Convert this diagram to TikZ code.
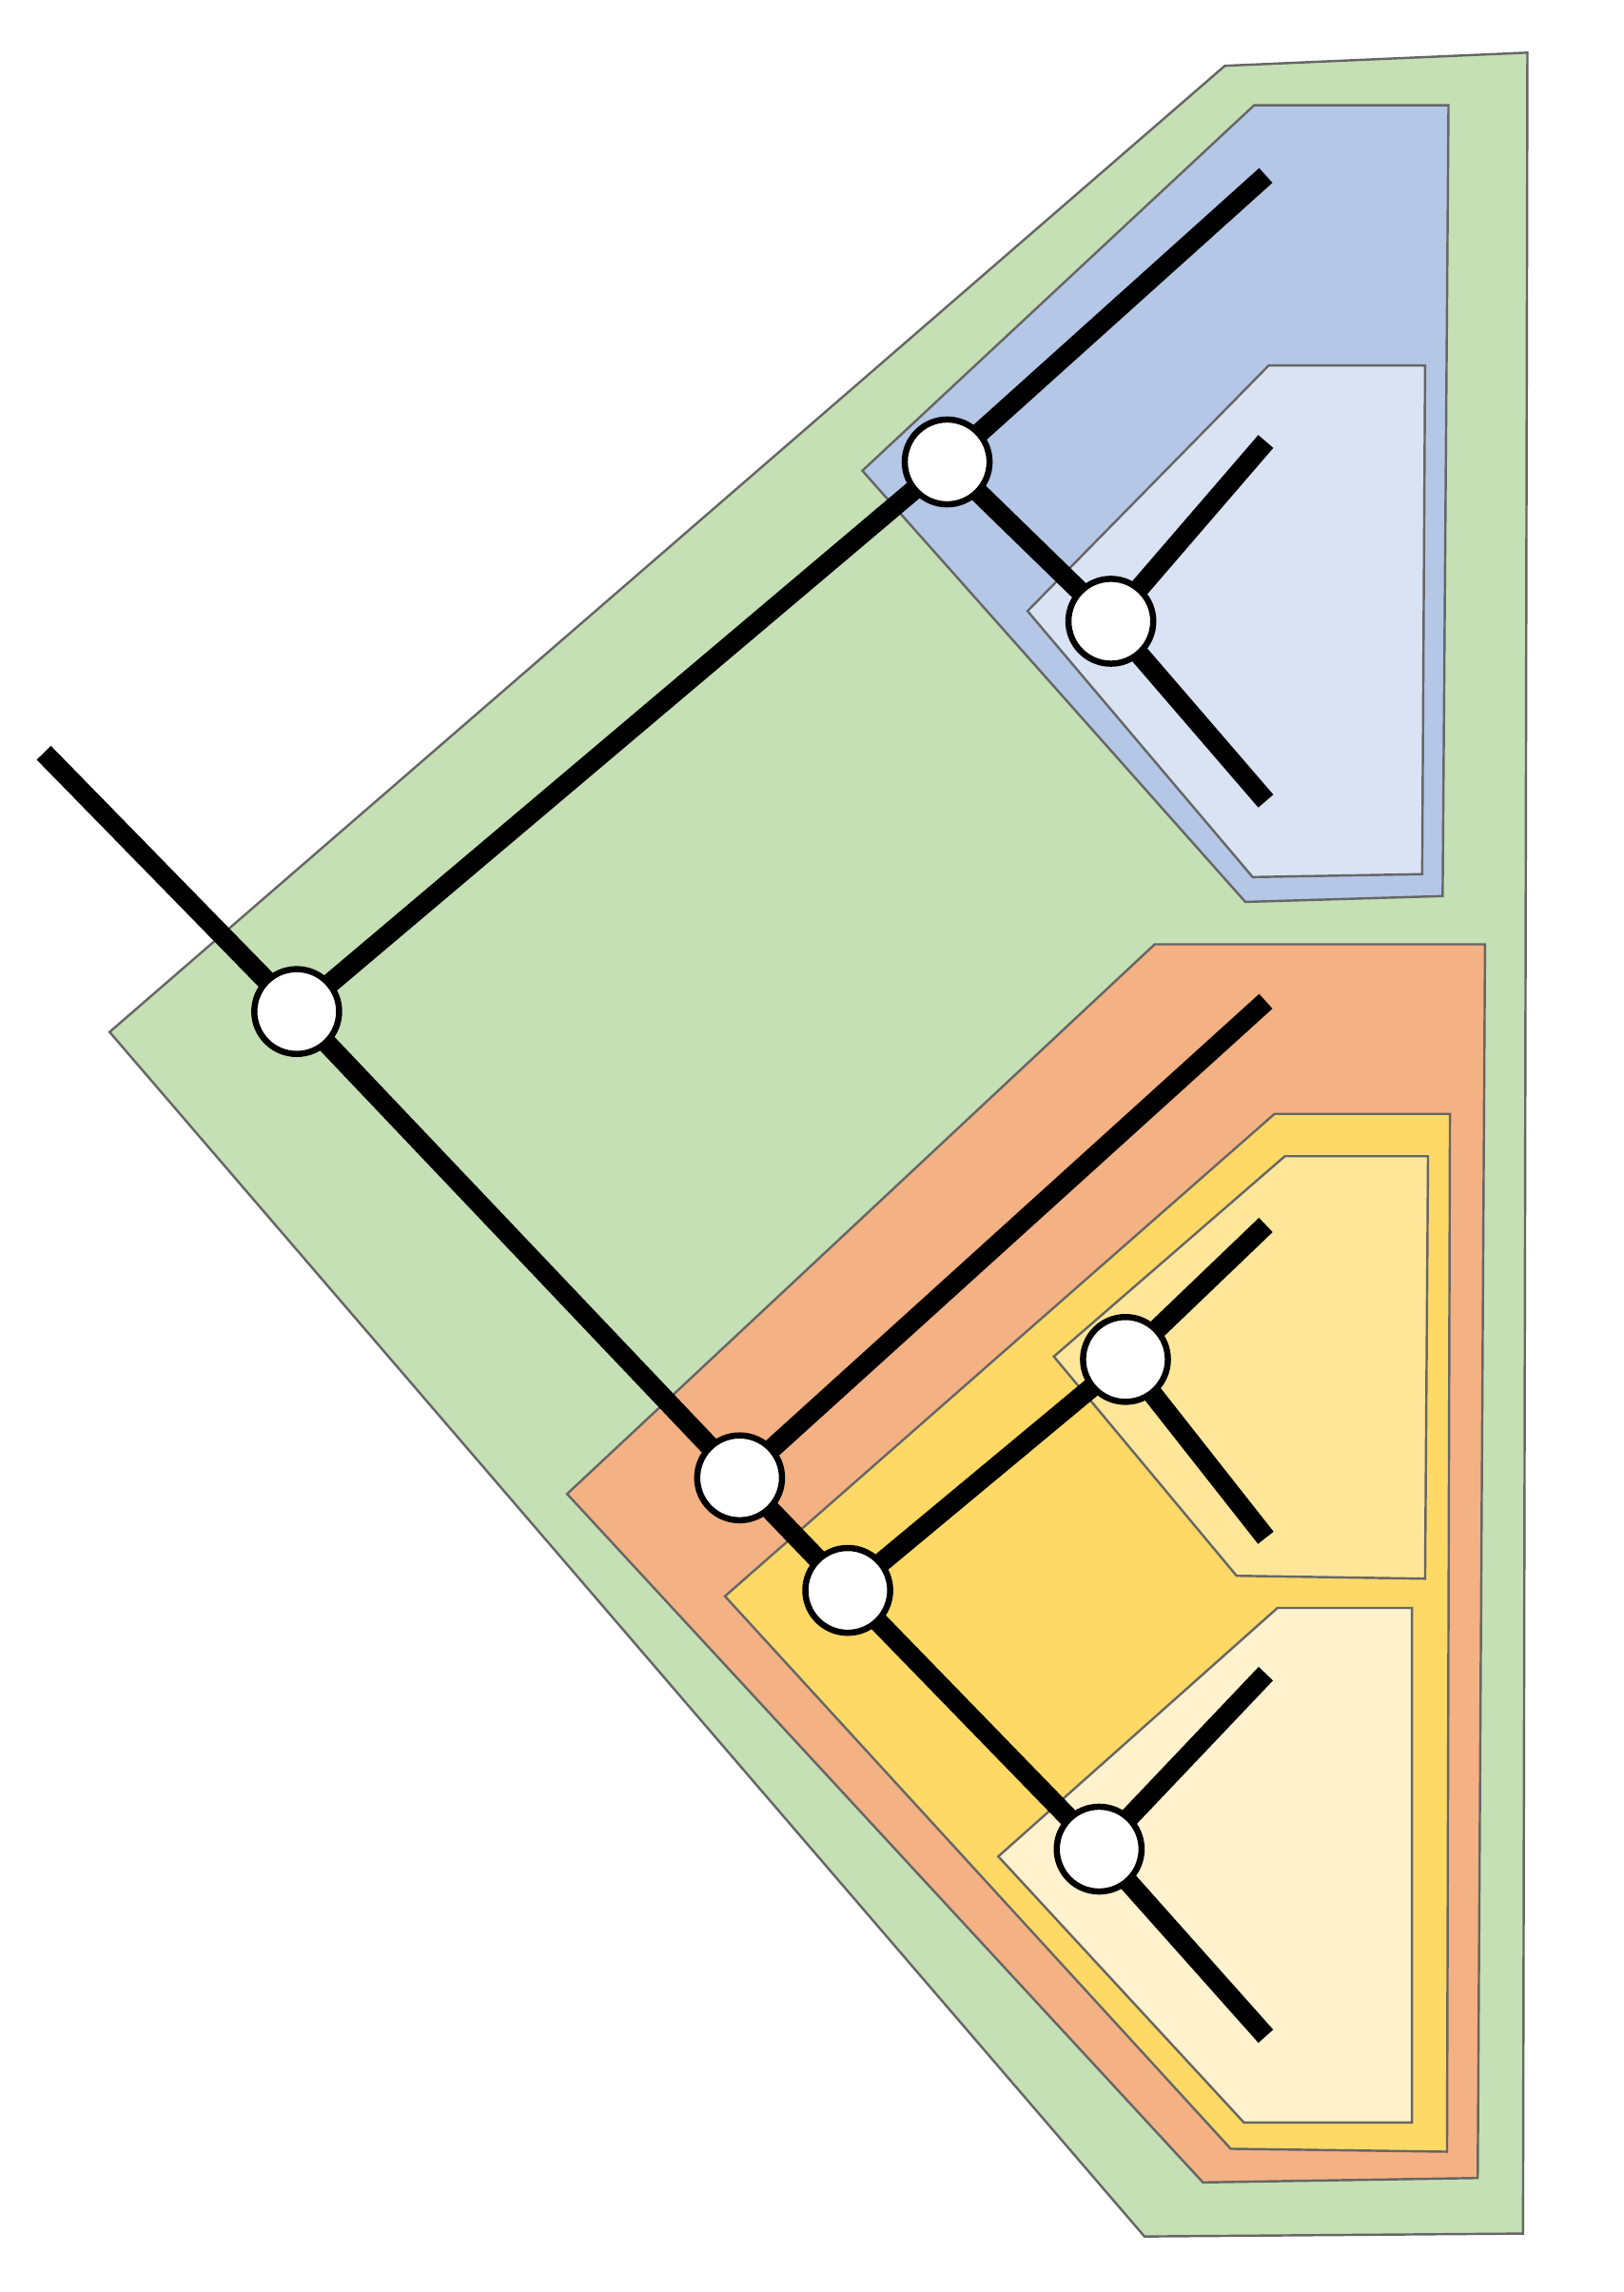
\documentclass[tikz,border=0pt]{standalone}
\begin{document}
\begin{tikzpicture}[x=0.01cm,y=-0.01cm,
  region/.style={draw=black!60, line width=0.45pt},
  branch/.style={line width=3.85pt, line cap=butt},
  inner/.style={circle, draw, fill=white, line width=1.2pt, minimum size=0.58cm, inner sep=0pt}]
\useasboundingbox (0,0) rectangle (1111,1568);
\definecolor{cgreen}{HTML}{C5E0B4}
\definecolor{cblue}{HTML}{B4C7E7}
\definecolor{clblue}{HTML}{DAE3F3}
\definecolor{corange}{HTML}{F4B183}
\definecolor{cyellow}{HTML}{FFD966}
\definecolor{clyellow}{HTML}{FFE699}
\definecolor{cllyellow}{HTML}{FFF2CC}
% regions
\draw[region, fill=cgreen] (838,45) -- (1045,36) -- (1042,1528) -- (783,1530) -- (75,706) -- cycle;
\draw[region, fill=cblue] (858,72) -- (991,72) -- (987,613) -- (852,617) -- (590,322) -- cycle;
\draw[region, fill=clblue] (868,250) -- (975,250) -- (973,598) -- (857,600) -- (703,418) -- cycle;
\draw[region, fill=corange] (790,646) -- (1016,646) -- (1011,1490) -- (823,1493) -- (388,1022) -- cycle;
\draw[region, fill=cyellow] (872,762) -- (992,762) -- (990,1472) -- (842,1470) -- (496,1092) -- cycle;
\draw[region, fill=clyellow] (879,791) -- (977,791) -- (975,1080) -- (846,1078) -- (721,928) -- cycle;
\draw[region, fill=cllyellow] (874,1100) -- (966,1100) -- (966,1452) -- (851,1452) -- (683,1270) -- cycle;
% positions
\coordinate (rootin) at (30,515);
\coordinate (l1) at (866,120);
\coordinate (l2) at (866,302);
\coordinate (l3) at (866,548);
\coordinate (l4) at (866,685);
\coordinate (l5) at (866,838);
\coordinate (l6) at (866,1052);
\coordinate (l7) at (866,1145);
\coordinate (l8) at (866,1393);
\coordinate (pR) at (203,692);
\coordinate (pA) at (648,316);
\coordinate (pB) at (760,425);
\coordinate (pC) at (506,1011);
\coordinate (pD) at (580,1088);
\coordinate (pE) at (770,930);
\coordinate (pF) at (752,1265);
% branches
\draw[branch] (rootin) -- (pR);
\draw[branch] (pR) -- (pA);
\draw[branch] (pA) -- (l1);
\draw[branch] (pA) -- (pB);
\draw[branch] (pB) -- (l2);
\draw[branch] (pB) -- (l3);
\draw[branch] (pR) -- (pC);
\draw[branch] (pC) -- (l4);
\draw[branch] (pC) -- (pD);
\draw[branch] (pD) -- (pE);
\draw[branch] (pE) -- (l5);
\draw[branch] (pE) -- (l6);
\draw[branch] (pD) -- (pF);
\draw[branch] (pF) -- (l7);
\draw[branch] (pF) -- (l8);
% circles
\node[inner] (R) at (pR) {};
\node[inner] (A) at (pA) {};
\node[inner] (B) at (pB) {};
\node[inner] (C) at (pC) {};
\node[inner] (D) at (pD) {};
\node[inner] (E) at (pE) {};
\node[inner] (F) at (pF) {};
\end{tikzpicture}
\end{document}
